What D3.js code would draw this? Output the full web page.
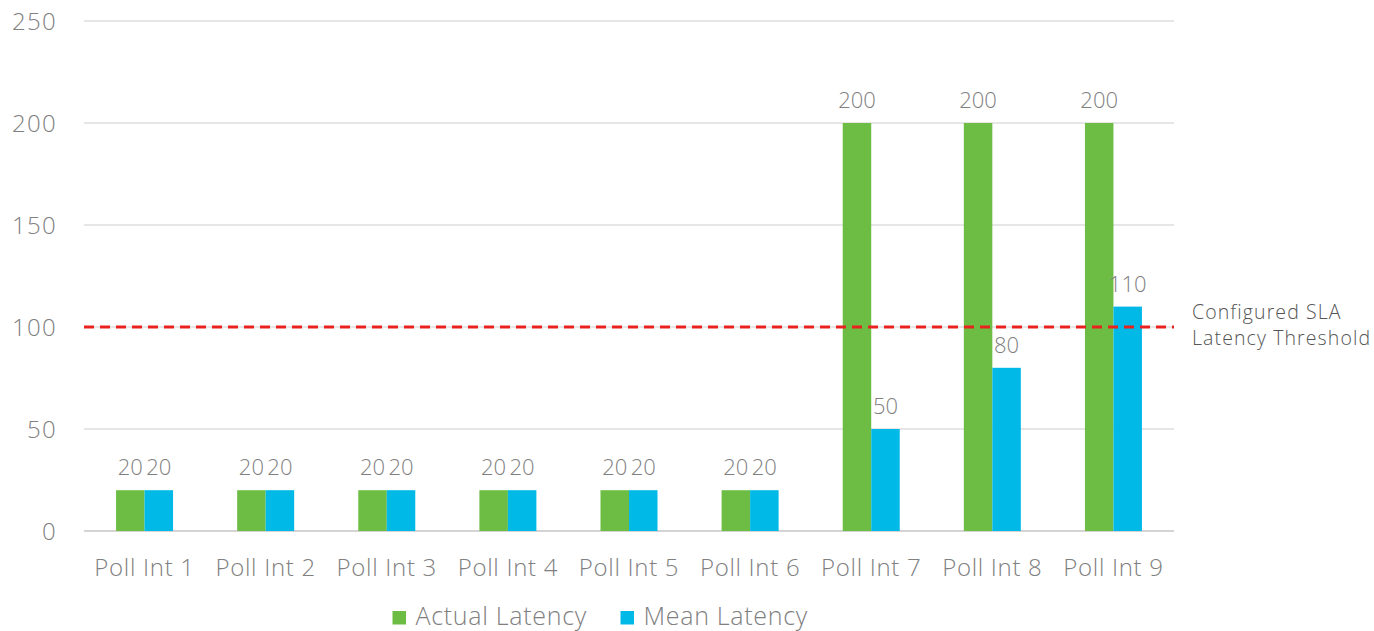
<!DOCTYPE html>
<html><head><meta charset="utf-8">
<script src="https://cdn.jsdelivr.net/npm/d3@7"></script>
<style>body{margin:0;background:#fff}svg{display:block}text{font-family:"Open Sans","Liberation Sans",sans-serif;font-weight:300}</style>
</head><body><svg id="c" width="1374" height="631"></svg>
<script>
const categories = ["Poll Int 1","Poll Int 2","Poll Int 3","Poll Int 4","Poll Int 5","Poll Int 6","Poll Int 7","Poll Int 8","Poll Int 9"];
const actualLatency = [20,20,20,20,20,20,200,200,200];
const meanLatency = [20,20,20,20,20,20,50,80,110];
const seriesNames = ["Actual Latency","Mean Latency"];
const seriesColors = ["#6dbd45","#00b9e7"];
const yTicks = [0,50,100,150,200,250];
const threshold = 100;
const thresholdLabel = ["Configured SLA","Latency Threshold"];

(function(){
const svg = d3.select("#c");
const mLeft = 84, mRight = 1174, mTop = 21, mBottom = 531;
const x = d3.scaleBand().domain(categories).range([mLeft,mRight]);
const y = d3.scaleLinear().domain([0,250]).range([mBottom,mTop]);
const barW = 28.5;

// gridlines
svg.append("g").selectAll("line").data(yTicks).join("line")
  .attr("x1",mLeft).attr("x2",mRight)
  .attr("y1",d=>y(d)).attr("y2",d=>y(d))
  .attr("stroke",d=>d===0?"#d4d4d4":"#dedede").attr("stroke-width",d=>d===0?2:1.5);

// y labels
svg.append("g").selectAll("text").data(yTicks).join("text")
  .attr("x",57).attr("y",d=>y(d)+8.5).attr("text-anchor","end")
  .attr("font-size",24).attr("letter-spacing",1.3).attr("fill","#808080").text(d=>d);

// bars
const series = [actualLatency, meanLatency];
series.forEach((vals,si)=>{
  const g = svg.append("g");
  g.selectAll("rect").data(vals).join("rect")
    .attr("x",(d,i)=>x(categories[i])+x.bandwidth()/2 + (si===0?-barW:0))
    .attr("y",d=>y(d)).attr("width",barW).attr("height",d=>y(0)-y(d))
    .attr("fill",seriesColors[si]);
  g.selectAll("text").data(vals).join("text")
    .attr("x",(d,i)=>x(categories[i])+x.bandwidth()/2 + (si===0?-barW/2:barW/2))
    .attr("y",d=>y(d)-15).attr("text-anchor","middle")
    .attr("font-size",22).attr("fill","#7f7f7f").text(d=>d);
});

// threshold
svg.append("line").attr("x1",mLeft).attr("x2",mRight)
  .attr("y1",y(threshold)).attr("y2",y(threshold))
  .attr("stroke","#e8231f").attr("stroke-width",3).attr("stroke-dasharray","10,6");
svg.append("g").selectAll("text").data(thresholdLabel).join("text")
  .attr("x",1192).attr("y",(d,i)=>319+i*26)
  .attr("font-size",19.5).attr("letter-spacing",1.1).attr("fill","#555").text(d=>d);

// x labels
svg.append("g").selectAll("text").data(categories).join("text")
  .attr("x",d=>x(d)+x.bandwidth()/2).attr("y",576).attr("text-anchor","middle")
  .attr("font-size",24).attr("letter-spacing",0.7).attr("fill","#808080").text(d=>d);

// legend
const legX = [392.5,620.5];
seriesNames.forEach((n,i)=>{
  svg.append("rect").attr("x",legX[i]).attr("y",611).attr("width",13.5).attr("height",13.5).attr("fill",seriesColors[i]);
  svg.append("text").attr("x",legX[i]+23).attr("y",625).attr("font-size",25).attr("letter-spacing",0.7).attr("fill","#808080").text(n);
});
})();
</script></body></html>
